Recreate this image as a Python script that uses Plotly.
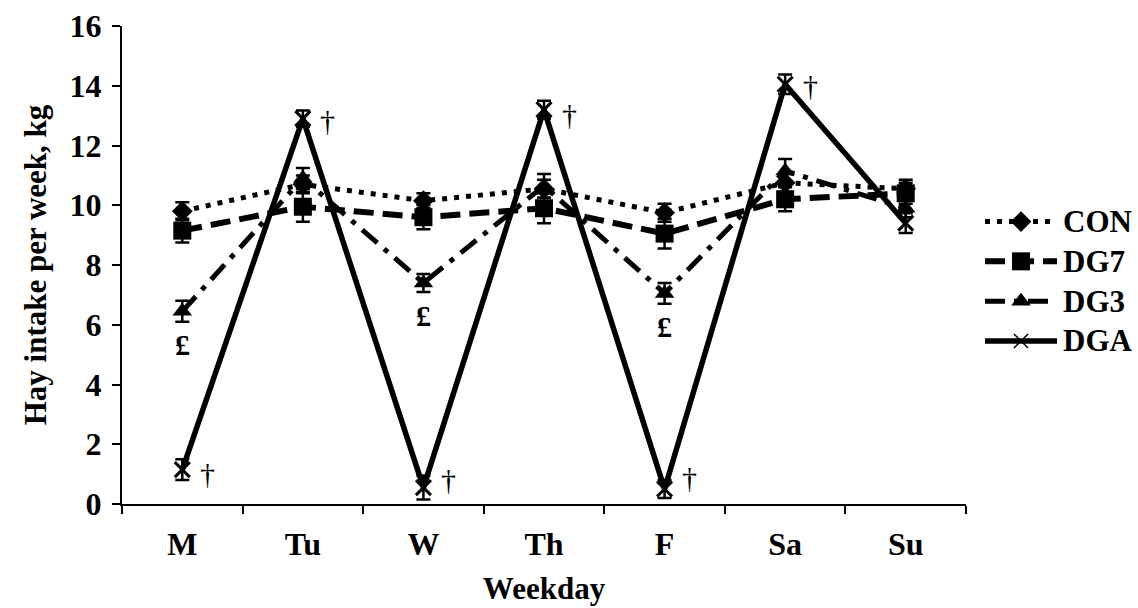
import plotly.graph_objects as go

# ---------------- data ----------------
days = ["M", "Tu", "W", "Th", "F", "Sa", "Su"]
series_names = ["CON", "DG7", "DG3", "DGA"]

con = [9.8, 10.7, 10.15, 10.55, 9.75, 10.75, 10.55]
con_err = [0.3, 0.3, 0.25, 0.3, 0.3, 0.3, 0.3]
dg7 = [9.15, 9.95, 9.6, 9.9, 9.05, 10.2, 10.4]
dg7_err = [0.4, 0.5, 0.4, 0.5, 0.5, 0.4, 0.35]
dg3 = [6.45, 10.9, 7.4, 10.65, 7.05, 11.15, 9.9]
dg3_err = [0.35, 0.35, 0.3, 0.4, 0.35, 0.4, 0.3]
dga = [1.15, 12.9, 0.55, 13.2, 0.5, 14.05, 9.4]
dga_err = [0.35, 0.27, 0.4, 0.3, 0.3, 0.33, 0.33]

dagger_days = ["M", "Tu", "W", "Th", "F", "Sa"]
pound_days = ["M", "W", "F"]

y_ticks = [0, 2, 4, 6, 8, 10, 12, 14, 16]

# ---------------- styles ----------------
FONT = "Liberation Serif, Times New Roman, serif"
values = [con, dg7, dg3, dga]
errors = [con_err, dg7_err, dg3_err, dga_err]
styles = [
    dict(dash="5px,7px", width=5, symbol="diamond", size=16, mline=0),
    dict(dash="20px,9px", width=6, symbol="square", size=18, mline=0),
    dict(dash="20px,9px,5px,9px", width=5, symbol="triangle-up", size=17, mline=0),
    dict(dash="solid", width=5.5, symbol="x-thin", size=15, mline=3),
]

fig = go.Figure()

for name, v, e, s in zip(series_names, values, errors, styles):
    fig.add_trace(go.Scatter(
        x=days, y=v, name=name, mode="lines+markers",
        line=dict(color="black", width=s["width"], dash=s["dash"]),
        marker=dict(symbol=s["symbol"], size=s["size"], color="black",
                    line=dict(color="black", width=s["mline"])),
        error_y=dict(type="data", array=e, visible=True, color="black",
                     thickness=2.5, width=7),
        showlegend=False, cliponaxis=False,
        xaxis="x", yaxis="y",
    ))

# manual legend (long line samples) on an overlay axis pair
for k, (name, s) in enumerate(zip(series_names, styles)):
    fig.add_trace(go.Scatter(
        x=[0, 1], y=[-k, -k], mode="lines",
        line=dict(color="black", width=s["width"], dash=s["dash"]),
        showlegend=False, hoverinfo="skip", xaxis="x2", yaxis="y2",
        cliponaxis=False,
    ))
    fig.add_trace(go.Scatter(
        x=[0.5], y=[-k], mode="markers",
        marker=dict(symbol=s["symbol"], size=s["size"] if s["symbol"] != "x-thin" else 14,
                    color="black",
                    line=dict(color="black", width=1.5 if s["mline"] else 0)),
        showlegend=False, hoverinfo="skip", xaxis="x2", yaxis="y2",
        cliponaxis=False,
    ))
    fig.add_annotation(
        x=1, y=-k, xref="x2", yref="y2", text=name, showarrow=False,
        xanchor="left", yanchor="middle", xshift=4,
        font=dict(family=FONT, size=31, color="black", weight="bold"),
    )

# significance markers
dagger_shift = [-4, -2, 8, -5, 12, -1]
for d, ys in zip(dagger_days, dagger_shift):
    i = days.index(d)
    fig.add_annotation(
        x=d, y=dga[i], xref="x", yref="y", text="†", showarrow=False,
        xshift=25, yshift=ys,
        font=dict(family=FONT, size=30, color="black"),
    )
for d in pound_days:
    i = days.index(d)
    fig.add_annotation(
        x=d, y=dg3[i], xref="x", yref="y", text="£", showarrow=False,
        yshift=-33,
        font=dict(family=FONT, size=30, color="black", weight="bold"),
    )

main_frac = 844 / 1008
fig.update_layout(
    width=1138, height=608,
    margin=dict(l=122, r=8, t=23, b=101),
    paper_bgcolor="white", plot_bgcolor="white",
    font=dict(family=FONT, color="black"),
    xaxis=dict(
        domain=[0, main_frac], type="category", categoryorder="array",
        categoryarray=days, range=[-0.5, 6.5], tickson="boundaries",
        ticks="outside", ticklen=8, tickwidth=2, tickcolor="black",
        showline=True, linewidth=2, linecolor="black", showgrid=False,
        zeroline=False, ticklabelstandoff=11,
        tickfont=dict(family=FONT, size=32, color="black", weight="bold"),
        title=dict(text="Weekday", standoff=16,
                   font=dict(family=FONT, size=31, color="black", weight="bold")),
    ),
    yaxis=dict(
        range=[0, 16], tickvals=y_ticks, ticks="outside", ticklen=8,
        tickwidth=2, tickcolor="black", showline=True, linewidth=2,
        linecolor="black", showgrid=False, zeroline=False,
        ticklabelstandoff=4,
        tickfont=dict(family=FONT, size=32, color="black", weight="bold"),
        title=dict(text="Hay intake per week, kg", standoff=14,
                   font=dict(family=FONT, size=31, color="black", weight="bold")),
    ),
    xaxis2=dict(domain=[863 / 1008, 935 / 1008], range=[0, 1], visible=False,
                anchor="y2", fixedrange=True),
    yaxis2=dict(domain=[0, 1], range=[-7.097, 4.913], visible=False,
                anchor="x2", fixedrange=True),
    showlegend=False,
)

fig.write_html("out.html")
